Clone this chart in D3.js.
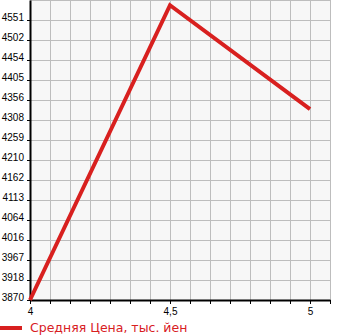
<!DOCTYPE html>
<html>
<head>
<meta charset="utf-8">
<script src="https://cdn.jsdelivr.net/npm/d3@7"></script>
<style>
  body { margin: 0; background: #fff; }
  svg { display: block; font-family: "DejaVu Sans", sans-serif; }
</style>
</head>
<body>
<svg id="chart" width="345" height="335"></svg>
<script>
'use strict'

// data
const years = [4, 4.5, 5]
const prices = [3870, 4587, 4334]
const yTickLabels = [3870, 3918, 3967, 4016, 4064, 4113, 4162, 4210, 4259, 4308, 4356, 4405, 4454, 4502, 4551]
const xTickLabels = [4, 4.5, 5]
const seriesName = 'Средняя Цена, тыс. йен'

const svg = d3.select('#chart')
const plotLeft = 30, plotRight = 330, plotTop = 0, plotBottom = 300
const red = '#d8201f'

const step = (4551 - 3870) / 14
const scaleX = d3.scaleLinear()
  .domain([4, 5 + 1 / 14])
  .range([plotLeft, plotRight])
const scaleY = d3.scaleLinear()
  .domain([3870, 4551 + step])
  .range([plotBottom, plotTop])

// plot background
svg.append('rect')
  .attr('x', plotLeft).attr('y', plotTop)
  .attr('width', plotRight - plotLeft).attr('height', plotBottom - plotTop)
  .style('fill', '#f7f7f7')

// grid
const xGrid = d3.range(0, 16).map(i => 4 + i / 14)
svg.append('g').selectAll('line').data(xGrid).join('line')
  .attr('x1', d => scaleX(d)).attr('x2', d => scaleX(d))
  .attr('y1', plotTop).attr('y2', plotBottom)
  .style('stroke', '#bdbdbd').style('stroke-width', 1)
  .attr('shape-rendering', 'crispEdges')

const yGrid = d3.range(0, 16).map(i => 3870 + i * step)
svg.append('g').selectAll('line').data(yGrid).join('line')
  .attr('x1', plotLeft).attr('x2', plotRight)
  .attr('y1', d => scaleY(d)).attr('y2', d => scaleY(d))
  .style('stroke', '#bdbdbd').style('stroke-width', 1)
  .attr('shape-rendering', 'crispEdges')

// axes
const axisY = d3.axisLeft(scaleY)
  .tickValues(yTickLabels.map((v, i) => 3870 + i * step))
  .tickFormat((d, i) => yTickLabels[i])
  .tickSize(3).tickSizeOuter(0)
const gy = svg.append('g')
  .attr('transform', `translate(${plotLeft},0)`)
  .call(axisY)
gy.selectAll('text').style('font-size', '10px').style('fill', '#000').attr('dy', '0.05em')
gy.select('.domain').style('stroke', '#000').style('stroke-width', 2)

const axisXminor = d3.axisBottom(scaleX).tickValues(xGrid).tickFormat('').tickSize(4).tickSizeOuter(0)
const gx = svg.append('g')
  .attr('transform', `translate(0,${plotBottom})`)
  .call(axisXminor)
gx.select('.domain').style('stroke', '#000').style('stroke-width', 2)

const axisX = d3.axisBottom(scaleX)
  .tickValues(xTickLabels)
  .tickFormat(d => String(d).replace('.', ','))
  .tickSize(0)
const gx2 = svg.append('g')
  .attr('transform', `translate(0,${plotBottom})`)
  .call(axisX)
gx2.select('.domain').remove()
gx2.selectAll('text').style('font-size', '10px').style('fill', '#000').attr('y', 8)

// line
const lineF = d3.line()
  .x((d, i) => scaleX(years[i]))
  .y(d => scaleY(d))
svg.append('path')
  .datum(prices)
  .attr('d', lineF)
  .style('fill', 'none')
  .style('stroke', red)
  .style('stroke-width', 4)
  .style('stroke-linejoin', 'miter')

// legend
svg.append('line')
  .attr('x1', 0).attr('x2', 22)
  .attr('y1', 328).attr('y2', 328)
  .style('stroke', red).style('stroke-width', 4)
svg.append('text')
  .attr('x', 30).attr('y', 332)
  .style('font-size', '12.5px')
  .style('fill', red)
  .text(seriesName)
</script>
</body>
</html>
